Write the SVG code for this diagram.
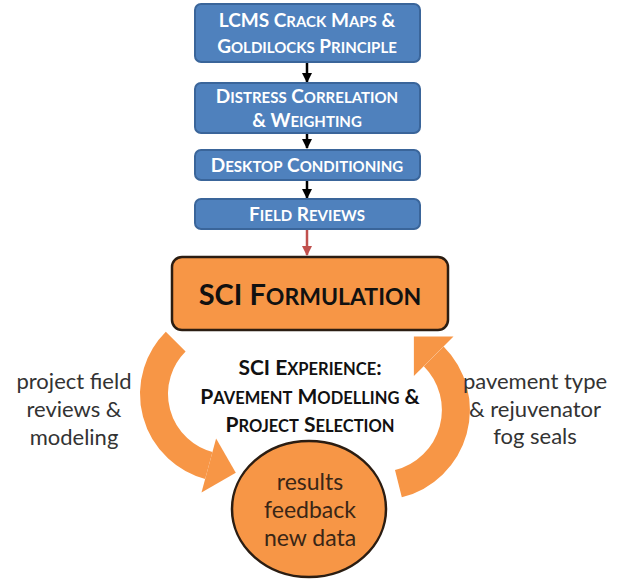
<svg xmlns="http://www.w3.org/2000/svg" width="623" height="579" viewBox="0 0 623 579">
<defs>
<marker id="ah" viewBox="0 0 10 10" refX="9" refY="5" markerWidth="4" markerHeight="4" orient="auto" markerUnits="strokeWidth"><path d="M0,0 L10,5 L0,10 z" fill="#000"/></marker>
<marker id="ahr" viewBox="0 0 10 10" refX="9" refY="5" markerWidth="4" markerHeight="4" orient="auto" markerUnits="strokeWidth"><path d="M0,0 L10,5 L0,10 z" fill="#C0504D"/></marker>
</defs>
<style>
.blue{fill:#4F81BD;stroke:#3A659A;stroke-width:2}
.bt{font-family:Lato,"Open Sans",sans-serif;font-weight:bold;fill:#fff;font-size:19px;text-anchor:middle}
.bt .s{font-size:15px}
.orange{fill:#F79646;stroke:#2b1d12;stroke-width:2.5}
.ot{font-family:Lato,"Open Sans",sans-serif;font-weight:bold;fill:#111;text-anchor:middle}
.lab{font-family:Lato,"Open Sans",sans-serif;fill:#333;font-size:22px;text-anchor:middle}
.ct{font-family:Lato,"Open Sans",sans-serif;fill:#3a2616;font-size:23px;text-anchor:middle}
.conn{stroke:#000;stroke-width:2.5;fill:none}
.band{fill:none;stroke:#F79646;stroke-width:28}
.head{fill:#F79646}
</style>
<rect width="623" height="579" fill="#fff"/>
<g id="connectors">
<line class="conn" x1="307" y1="62" x2="307" y2="82" marker-end="url(#ah)"/>
<line class="conn" x1="307" y1="133" x2="307" y2="148" marker-end="url(#ah)"/>
<line class="conn" x1="307" y1="180" x2="307" y2="198" marker-end="url(#ah)"/>
<line x1="307" y1="230" x2="307" y2="255" stroke="#C0504D" stroke-width="2.5" marker-end="url(#ahr)"/>
<g id="arrow-left">
<path class="band" d="M175.7,341.7 A74,74 0 0 0 208.8,465.5"/>
<polygon class="head" points="201.5,492.5 216.1,438.5 235.8,472.8"/>
</g>
<g id="arrow-right">
<path class="band" d="M398.4,483.7 A76,76 0 0 0 433.7,356.3"/>
<polygon class="head" points="453.5,336.5 413.9,376.1 413.9,336.5"/>
</g>
</g>
<g id="n1"><rect class="blue" x="195" y="4" width="225" height="58" rx="6"/>
<text class="bt" x="307" y="27">LCMS C<tspan class="s">RACK</tspan> M<tspan class="s">APS</tspan> &amp;</text>
<text class="bt" x="307" y="53">G<tspan class="s">OLDILOCKS</tspan> P<tspan class="s">RINCIPLE</tspan></text></g>
<g id="n2"><rect class="blue" x="195" y="83" width="225" height="50" rx="6"/>
<text class="bt" x="307" y="103">D<tspan class="s">ISTRESS</tspan> C<tspan class="s">ORRELATION</tspan></text>
<text class="bt" x="307" y="127">&amp; W<tspan class="s">EIGHTING</tspan></text></g>
<g id="n3"><rect class="blue" x="195" y="150" width="225" height="30" rx="6"/>
<text class="bt" x="307" y="172">D<tspan class="s">ESKTOP</tspan> C<tspan class="s">ONDITIONING</tspan></text></g>
<g id="n4"><rect class="blue" x="195" y="199" width="225" height="30" rx="6"/>
<text class="bt" x="307" y="221">F<tspan class="s">IELD</tspan> R<tspan class="s">EVIEWS</tspan></text></g>
<g id="sci"><rect class="orange" x="172" y="257" width="276" height="73" rx="10"/>
<text class="ot" x="310" y="305" font-size="29">SCI F<tspan font-size="23">ORMULATION</tspan></text></g>
<g id="experience">
<text class="ot" x="310" y="375" font-size="21">SCI E<tspan font-size="16.5">XPERIENCE</tspan>:</text>
<text class="ot" x="310" y="404" font-size="21">P<tspan font-size="16.5">AVEMENT</tspan> M<tspan font-size="16.5">ODELLING</tspan> &amp;</text>
<text class="ot" x="310" y="432" font-size="21">P<tspan font-size="16.5">ROJECT</tspan> S<tspan font-size="16.5">ELECTION</tspan></text></g>
<g id="results"><ellipse class="orange" cx="309" cy="509" rx="77" ry="68"/>
<text class="ct" x="310" y="490">results</text>
<text class="ct" x="310" y="518">feedback</text>
<text class="ct" x="310" y="546">new data</text></g>
<g id="left-label">
<text class="lab" x="74" y="389">project field</text>
<text class="lab" x="74" y="417">reviews &amp;</text>
<text class="lab" x="74" y="445">modeling</text></g>
<g id="right-label">
<text class="lab" x="535" y="389">pavement type</text>
<text class="lab" x="535" y="417">&amp; rejuvenator</text>
<text class="lab" x="535" y="444">fog seals</text></g>
</svg>
